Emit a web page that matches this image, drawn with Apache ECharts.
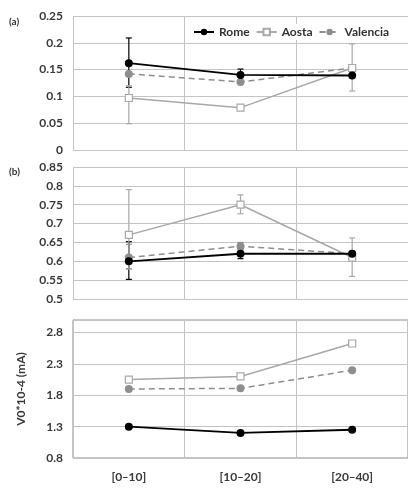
<!DOCTYPE html>
<html>
<head>
<meta charset="utf-8">
<script src="https://cdn.jsdelivr.net/npm/echarts@6/dist/echarts.min.js"></script>
<style>
  html, body { margin: 0; padding: 0; background: #fff; }
  #chart { width: 408px; height: 491px; }
</style>
</head>
<body>
<div id="chart"></div>
<script>
const categories = ["[0\u201210]", "[10\u201220]", "[20\u201240]"];

// panel (a)
const romeA = [0.162, 0.14, 0.139];
const aostaA = [0.097, 0.079, 0.153];
const valenciaA = [0.142, 0.127, 0.153];
const romeErrA = [[0.117, 0.209], [0.128, 0.151], null];
const aostaErrA = [[0.049, 0.12], null, [0.11, 0.198]];

// panel (b)
const romeB = [0.6, 0.62, 0.62];
const aostaB = [0.67, 0.75, 0.61];
const valenciaB = [0.61, 0.64, 0.62];
const romeErrB = [[0.552, 0.652], [0.607, 0.633], null];
const aostaErrB = [[0.58, 0.79], [0.726, 0.776], [0.56, 0.662]];
const valenciaErrB = [[0.58, 0.645], [0.63, 0.65], null];

// panel (c)
const romeC = [1.3, 1.2, 1.25];
const aostaC = [2.05, 2.1, 2.625];
const valenciaC = [1.9, 1.91, 2.2];

const ROME = "#000000";
const AOSTA = "#a8a8a8";
const VAL = "#8e8e8e";
const GRIDC = "#c4c4c4";
const FONT = "Lato";
const labelFont = { fontFamily: FONT, fontWeight: "bold", fontSize: 12, color: "#3a3a3a" };

const chart = echarts.init(document.getElementById("chart"));

function errData(arr) {
  const out = [];
  arr.forEach((e, i) => { if (e) out.push([i, e[0], e[1]]); });
  return out;
}

function errSeries(idx, arr, color) {
  return {
    type: "custom",
    xAxisIndex: idx,
    yAxisIndex: idx,
    silent: true,
    z: 1,
    data: errData(arr),
    renderItem: function (params, api) {
      const lo = api.coord([api.value(0), api.value(1)]);
      const hi = api.coord([api.value(0), api.value(2)]);
      const w = 3;
      const st = { stroke: color, lineWidth: 1.2 };
      return {
        type: "group",
        children: [
          { type: "line", shape: { x1: lo[0], y1: lo[1], x2: hi[0], y2: hi[1] }, style: st },
          { type: "line", shape: { x1: lo[0] - w, y1: lo[1], x2: lo[0] + w, y2: lo[1] }, style: st },
          { type: "line", shape: { x1: hi[0] - w, y1: hi[1], x2: hi[0] + w, y2: hi[1] }, style: st },
        ],
      };
    },
  };
}

function lines(idx, rome, aosta, val) {
  return [
    {
      name: "Rome", type: "line", xAxisIndex: idx, yAxisIndex: idx, data: rome, z: 4,
      symbol: "circle", symbolSize: 8,
      lineStyle: { color: ROME, width: 1.8 }, itemStyle: { color: ROME },
    },
    {
      name: "Aosta", type: "line", xAxisIndex: idx, yAxisIndex: idx, data: aosta, z: 3,
      symbol: "rect", symbolSize: 7,
      lineStyle: { color: AOSTA, width: 1.5 },
      itemStyle: { color: "#fff", borderColor: AOSTA, borderWidth: 1.2 },
    },
    {
      name: "Valencia", type: "line", xAxisIndex: idx, yAxisIndex: idx, data: val, z: 2,
      symbol: "circle", symbolSize: 8,
      lineStyle: { color: VAL, width: 1.5, type: [6, 4] }, itemStyle: { color: VAL },
    },
  ];
}

function xAx(idx, showLabels) {
  return {
    type: "category", gridIndex: idx, data: categories, boundaryGap: true,
    axisLine: { show: false }, axisTick: { show: false },
    axisLabel: Object.assign({ show: showLabels, margin: 13 }, labelFont),
    splitLine: { show: true, lineStyle: { color: GRIDC, width: 1 } },
  };
}

function yAx(idx, min, max, interval, fmt, extra) {
  return Object.assign({
    type: "value", gridIndex: idx, min: min, max: max, interval: interval,
    axisLine: { show: false }, axisTick: { show: false },
    axisLabel: Object.assign({ margin: 10, formatter: fmt, showMaxLabel: true }, labelFont),
    splitLine: { show: true, lineStyle: { color: GRIDC, width: 1 } },
  }, extra || {});
}

const option = {
  animation: false,
  backgroundColor: "#fff",
  legend: {
    data: ["Rome", "Aosta", "Valencia"],
    left: 190, top: 24, width: 215,
    itemWidth: 20, itemHeight: 8, itemGap: 6,
    backgroundColor: "#fff", padding: [2, 3],
    textStyle: { fontFamily: FONT, fontWeight: "bold", fontSize: 12, color: "#333" },
  },
  grid: [
    { left: 73, width: 342, top: 16, height: 134 },
    { left: 73, width: 342, top: 167, height: 132 },
    { left: 73, width: 342, top: 320, height: 138, show: true, borderColor: "#8a8a8a", borderWidth: 1 },
  ],
  xAxis: [xAx(0, false), xAx(1, false), xAx(2, true)],
  yAxis: [
    yAx(0, 0, 0.25, 0.05, (v) => (v === 0 ? "0" : +v.toFixed(2) + "")),
    yAx(1, 0.5, 0.85, 0.05, (v) => +v.toFixed(2) + ""),
    yAx(2, 0.8, 3.0, 0.5, (v) => (v > 2.9 ? "" : v.toFixed(1)), {
      name: "V0*10-4 (mA)", nameLocation: "middle", nameGap: 46,
      nameTextStyle: { fontFamily: FONT, fontWeight: "bold", fontSize: 12, color: "#3a3a3a" },
    }),
  ],
  graphic: [
    { type: "text", left: 9, top: 17, style: { text: "(a)", font: "bold 10px Lato", fill: "#333" } },
    { type: "text", left: 9, top: 167, style: { text: "(b)", font: "bold 10px Lato", fill: "#333" } },
  ],
  series: [
    ...lines(0, romeA, aostaA, valenciaA),
    errSeries(0, romeErrA, ROME),
    errSeries(0, aostaErrA, AOSTA),
    ...lines(1, romeB, aostaB, valenciaB),
    errSeries(1, romeErrB, ROME),
    errSeries(1, aostaErrB, AOSTA),
    errSeries(1, valenciaErrB, VAL),
    ...lines(2, romeC, aostaC, valenciaC),
  ],
};

chart.setOption(option);
</script>
</body>
</html>
